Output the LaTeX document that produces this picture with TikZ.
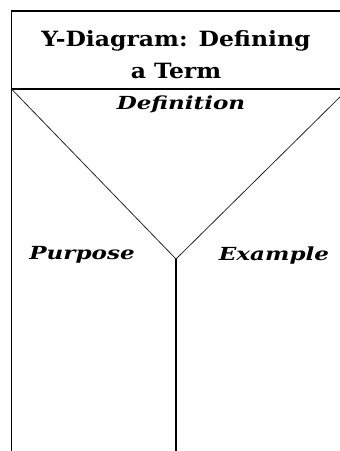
\documentclass[tikz,border=0pt]{standalone}
\usepackage{fontspec}
\setmainfont{DejaVu Serif}
\newfontfamily\ytitlefont[FakeStretch=1.12]{DejaVu Serif}
\newfontfamily\ylabelfont[FakeStretch=1.28]{DejaVu Serif}
\tikzset{
  yframe/.style={draw=black, line width=1.1pt},
  yfork/.style={draw=black!85, line width=0.8pt},
  ytitle/.style={font=\ytitlefont\bfseries\fontsize{21}{32}\selectfont, align=center, inner sep=0pt},
  ylabel/.style={font=\ylabelfont\bfseries\itshape\fontsize{18}{20}\selectfont, inner sep=0pt},
}

\begin{document}
\begin{tikzpicture}[x=1pt, y=-1pt]
  \clip (0,0) rectangle (340,451);
  % --- frame and title band ---
  \coordinate (tl)   at (11.5, 11);
  \coordinate (tr)   at (345, 11);
  \coordinate (ml)   at (11.5, 89);
  \coordinate (mr)   at (345, 89);
  \coordinate (bl)   at (11.5, 451);
  \coordinate (fork) at (176, 259);
  \coordinate (foot) at (176, 451);
  \coordinate (rend) at (345, 92);

  \draw[yframe] (tr) -- (tl) -- (bl);
  \draw[yframe] (ml) -- (mr);
  \draw[yfork] (ml) -- (fork) -- (rend);
  \draw[yframe] (fork) -- (foot);

  \node[ytitle] (title) at (176, 55) {Y-Diagram: Defining\\a Term};

  % --- the three arms ---
  \node[ylabel] (defn)    at (181, 104) {Definition};
  \node[ylabel] (purpose) at (82, 255)  {Purpose};
  \node[ylabel] (example) at (274, 256) {Example};
\end{tikzpicture}
\end{document}
